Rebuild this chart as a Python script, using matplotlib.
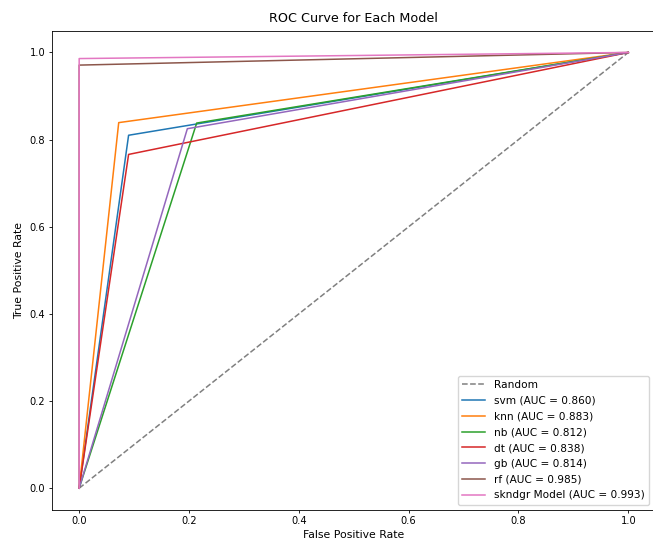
import matplotlib.pyplot as plt

# ROC points for each model (fpr, tpr at the single threshold)
models = ['svm', 'knn', 'nb', 'dt', 'gb', 'rf', 'skndgr']
labels = ['svm', 'knn', 'nb', 'dt', 'gb', 'rf', 'skndgr Model']
fpr_mid = [0.090, 0.072, 0.214, 0.090, 0.197, 0.0, 0.0]
tpr_mid = [0.810, 0.839, 0.838, 0.766, 0.825, 0.971, 0.986]
aucs = [0.860, 0.883, 0.812, 0.838, 0.814, 0.985, 0.993]

plt.rcParams['font.size'] = 7.1

fig = plt.figure(figsize=(6.53, 5.43), dpi=100)
ax = fig.add_axes([0.0792, 0.0608, 0.925, 0.8827])

ax.plot([0, 1], [0, 1], linestyle='--', color='gray', lw=1.1, label='Random')

for i in range(len(models)):
    ax.plot([0, fpr_mid[i], 1], [0, tpr_mid[i], 1], lw=1.1,
            label=f'{labels[i]} (AUC = {aucs[i]:.3f})')

ax.set_xlim(-0.05, 1.05)
ax.set_ylim(-0.05, 1.05)
ax.set_xlabel('False Positive Rate', fontsize=7.8, labelpad=3)
ax.set_ylabel('True Positive Rate', fontsize=7.8, labelpad=4)
ax.set_title('ROC Curve for Each Model', fontsize=9.2, pad=6)
ax.tick_params(length=2.5, width=0.6, pad=2)
for s in ax.spines.values():
    s.set_linewidth(0.6)
ax.legend(loc='lower right', fontsize=7.6, handlelength=2.2,
          labelspacing=0.55, bbox_to_anchor=(0.997, 0.0))

plt.savefig('out.png', dpi=100)
